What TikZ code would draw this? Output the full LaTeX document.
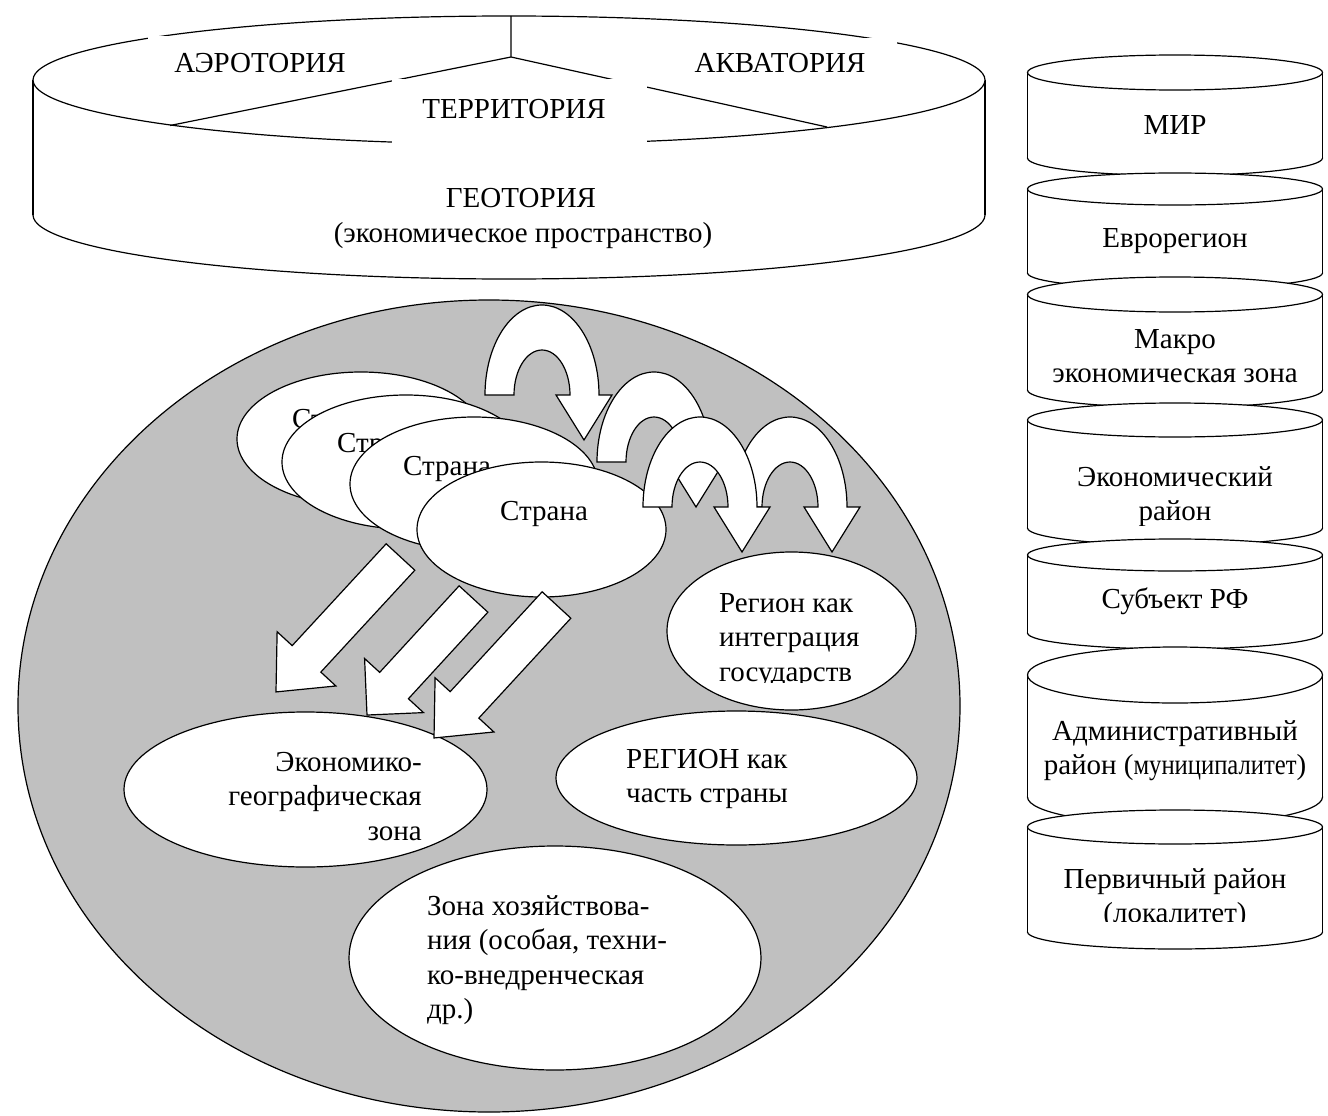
\documentclass[tikz,border=0pt]{standalone}
\usepackage{fontspec}
\usepackage{graphicx}
\setmainfont{Liberation Serif}
\usetikzlibrary{shapes.geometric}
\definecolor{geogray}{RGB}{192,192,192}
\tikzset{
  lbl/.style={font=\fontsize{29}{34.5}\selectfont, inner sep=0pt, text=black},
  outl/.style={draw=black, line width=1.2pt},
  blk/.style={draw=black, fill=white, line width=1.2pt, line join=miter},
  oval/.style 2 args={ellipse, draw=black, fill=white, line width=1.2pt, inner sep=0pt, minimum width=#1, minimum height=#2},
}
% cylinder: cx, rx, top y, top ry, bottom y, bottom ry
\newcommand\mycan[6]{%
  \draw[blk] (#1,#5) ellipse[x radius=#2, y radius=#6];
  \fill[white] (#1-#2,#3) rectangle (#1+#2,#5);
  \draw[outl] (#1-#2,#3) -- (#1-#2,#5) (#1+#2,#3) -- (#1+#2,#5);
  \draw[blk] (#1,#3) ellipse[x radius=#2, y radius=#4];
}
% U-turn block arrow: centre x, base y
\newcommand\myuturn[2]{%
  \draw[blk] (#1-57,#2) arc[start angle=180, end angle=360, x radius=57, y radius=90]
    -- ++(13,0) -- ++(-28,45) -- ++(-28,-45) -- ++(14,0)
    arc[start angle=360, end angle=180, x radius=28, y radius=45] -- cycle;
}
% straight block arrow: tail x, tail y, angle, length, head length
\newcommand\mystraight[5]{%
  \begin{scope}[shift={(#1,#2)}, rotate=#3]
    \draw[blk] (0,-19.5) -- (#4-#5,-19.5) -- (#4-#5,-40) -- (#4,0)
      -- (#4-#5,40) -- (#4-#5,19.5) -- (0,19.5) -- cycle;
  \end{scope}
}
\begin{document}
\begin{tikzpicture}[x=1pt, y=1pt, yscale=-1]
\useasboundingbox (0,0) rectangle (1328,1116);

% ---------- top cylinder ----------
\mycan{509}{476}{80}{64}{215}{64}
\coordinate (hub) at (511,57);
\coordinate (hubtop) at (511,16);
\coordinate (hubleft) at (170,125.5);
\coordinate (hubright) at (827,127);
\draw[outl] (hub) -- (hubtop) (hub) -- (hubleft) (hub) -- (hubright);
\fill[white] (148,36) rectangle (380,79);
\fill[white] (655,38) rectangle (897,82);
\fill[white] (392,79) rectangle (647,150);
\node[lbl, anchor=base] (aero) at (260,73) {АЭРОТОРИЯ};
\node[lbl, anchor=base] (akva) at (780,73) {АКВАТОРИЯ};
\node[lbl, anchor=base] (terr) at (514,118) {ТЕРРИТОРИЯ};
\node[lbl, anchor=base] (geot) at (521,207) {ГЕОТОРИЯ};
\node[lbl, anchor=base] (econsp) at (523,242) {(экономическое пространство)};

% ---------- right stack ----------
\mycan{1175}{147.5}{72.5}{17.5}{158}{17.5}
\mycan{1175}{147.5}{189}{16}{273}{16}
\mycan{1175}{147.5}{294.5}{17.5}{390}{17.5}
\mycan{1175}{147.5}{420}{17}{528}{17}
\mycan{1175}{147.5}{555}{16}{633}{16}
\mycan{1175}{147.5}{675}{28}{797}{28}
\mycan{1175}{147.5}{827}{17}{932}{17}
\node[lbl, anchor=base] (mir) at (1175,134) {МИР};
\node[lbl, anchor=base] (evro) at (1175,247) {Еврорегион};
\node[lbl, anchor=base, align=center] (makro) at (1175,382.5) {Макро\\экономическая зона};
\begin{scope}
  \clip (1030,440) rectangle (1320,525);
  \node[lbl, anchor=base, align=center] (ekrai) at (1175,520.5) {Экономический\\район};
\end{scope}
\node[lbl, anchor=base] (subj) at (1175,608) {Субъект РФ};
\node[lbl, anchor=base, align=center] (admin) at (1175,774.5) {Административный\\район (\scalebox{0.85}[1]{муниципалитет})};
\begin{scope}
  \clip (1030,850) rectangle (1320,921.5);
  \node[lbl, anchor=base, align=center] (perv) at (1175,922.5) {Первичный район\\(локалитет)};
\end{scope}

% ---------- grey region ----------
\node[ellipse, draw=black, fill=geogray, line width=1.2pt, inner sep=0pt,
      minimum width=942pt, minimum height=812pt] (geo) at (489,706) {};

\node[oval={248pt}{134pt}] (s1) at (361,439) {};
\node[lbl, anchor=base west] (s1t) at (292,428) {Страна};
\node[oval={248pt}{134pt}] (s2) at (406,462) {};
\node[lbl, anchor=base west] (s2t) at (337,452) {Страна};
\node[oval={248pt}{134pt}] (s3) at (474,484) {};
\node[lbl, anchor=base west] (s3t) at (403,475) {Страна};
\node[oval={249pt}{135pt}] (s4) at (541.5,529.5) {};
\node[lbl, anchor=base west] (s4t) at (500,520) {Страна};

\node[oval={249pt}{158pt}] (integ) at (791.5,631) {};
\begin{scope}
  \clip (680,570) rectangle (900,682);
  \node[lbl, anchor=base west, align=left] (integt) at (719,681) {Регион как\\интеграция\\государств};
\end{scope}

\node[oval={363pt}{155pt}] (ezone) at (305.5,789.5) {};
\node[lbl, anchor=base east, align=right] (ezonet) at (422,840) {Экономико-\\географическая\\зона};

\node[oval={361pt}{134pt}] (reg) at (736.5,778) {};
\node[lbl, anchor=base west, align=left] (regt) at (626,802.5) {РЕГИОН как\\часть страны};

\node[oval={412pt}{224pt}] (hoz) at (555,958) {};
\node[lbl, anchor=base west, align=left] (hozt) at (427,1018.5) {Зона хозяйствова-\\ния (особая, техни-\\ко-внедренческая\\др.)};

% U-turn arrows
\myuturn{654}{462}
\myuturn{790}{507}
\myuturn{700}{507}
\myuturn{542}{395}

% straight arrows
\mystraight{400.5}{557}{132.7}{183.6}{45}
\mystraight{473.5}{599}{132.55}{157.5}{40}
\mystraight{556.5}{605}{132.65}{180.8}{45}
\end{tikzpicture}
\end{document}
